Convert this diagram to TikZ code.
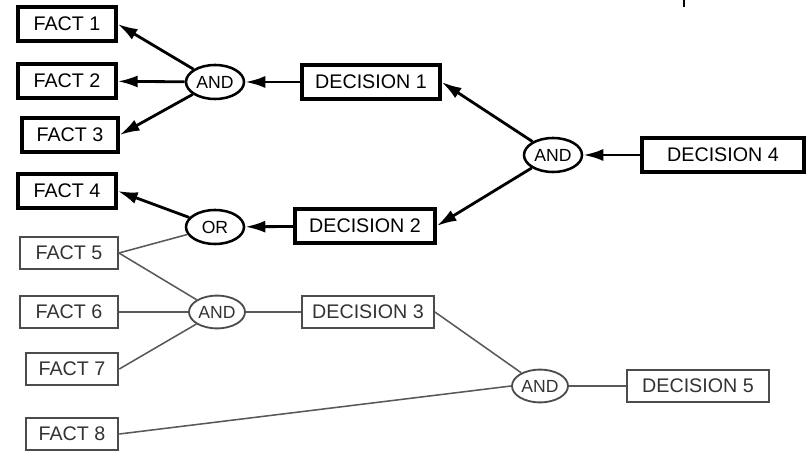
\documentclass[tikz,border=0pt]{standalone}
\usepackage{fontspec}
\setmainfont{Liberation Sans}
\usetikzlibrary{arrows.meta,shapes.geometric}

\begin{document}
\begin{tikzpicture}[x=0.025cm, y=-0.025cm, >={Latex[length=5mm,width=3mm]},
		boxthick/.style={draw=black, line width=2.3pt, fill=white, minimum height=0.85cm, inner sep=1pt, font=\fontsize{14}{16}\selectfont},
		boxthin/.style={draw=black!70, line width=1.3pt, fill=white, text=black!80, minimum height=0.82cm, inner sep=1pt, font=\fontsize{14}{16}\selectfont},
		gatethick/.style={ellipse, draw=black, line width=1.8pt, minimum width=1.45cm, minimum height=0.85cm, inner sep=0pt, font=\fontsize{12.5}{14}\selectfont},
		gatethin/.style={ellipse, draw=black!70, line width=1.3pt, text=black!80, minimum width=1.4cm, minimum height=0.82cm, inner sep=0pt, font=\fontsize{12.5}{14}\selectfont},
		linkthick/.style={->, line width=2pt},
		linkthin/.style={draw=black!65, line width=1.1pt}]
	\useasboundingbox (0,0) rectangle (810,452);
	% Các sự kiện bên trái
	\node[boxthick, minimum width=2.45cm] (f1) at (67,24) {FACT 1};
	\node[boxthick, minimum width=2.45cm] (f2) at (67,81) {FACT 2};
	\node[boxthick, minimum width=2.4cm] (f3) at (70,135) {FACT 3};
	\node[boxthick, minimum width=2.45cm] (f4) at (67,191) {FACT 4};
	\node[boxthin, minimum width=2.45cm] (f5) at (69,253) {FACT 5};
	\node[boxthin, minimum width=2.45cm] (f6) at (69,312) {FACT 6};
	\node[boxthin, minimum width=2.32cm] (f7) at (72,369) {FACT 7};
	\node[boxthin, minimum width=2.32cm] (f8) at (72,434) {FACT 8};
	% Các cổng logic
	\node[gatethick] (and1) at (215,82) {AND};
	\node[gatethick] (or) at (215,227) {OR};
	\node[gatethin] (and2) at (217,312) {AND};
	\node[gatethick] (and3) at (553,155) {AND};
	\node[gatethin] (and4) at (540,386) {AND};
	% Các quyết định
	\node[boxthick, minimum width=3.45cm] (d1) at (371,82) {DECISION 1};
	\node[boxthick, minimum width=3.5cm] (d2) at (365,226) {DECISION 2};
	\node[boxthin, minimum width=3.3cm] (d3) at (368,312) {DECISION 3};
	\node[boxthick, minimum width=4.05cm] (d4) at (723,155) {DECISION 4};
	\node[boxthin, minimum width=3.55cm] (d5) at (698,386) {DECISION 5};
	% Nhánh được chọn (nét đậm, có mũi tên)
	\draw[linkthick] (and1) -- (f1.east);
	\draw[linkthick] (and1) -- (f2);
	\draw[linkthick] (and1) -- (f3.east);
	\draw[linkthick] (d1) -- (and1);
	\draw[linkthick] (or) -- (f4.east);
	\draw[linkthick] (d2) -- (or);
	\draw[linkthick] (and3) -- (d1.east);
	\draw[linkthick] (and3) -- (d2.east);
	\draw[linkthick] (d4) -- (and3);
	% Nhánh còn lại (nét mảnh)
	\draw[linkthin] (f5.east) -- (or);
	\draw[linkthin] (f5.east) -- (and2);
	\draw[linkthin] (f6) -- (and2);
	\draw[linkthin] (f7.east) -- (and2);
	\draw[linkthin] (and2) -- (d3);
	\draw[linkthin] (d3.east) -- (and4);
	\draw[linkthin] (f8.east) -- (and4.west);
	\draw[linkthin] (and4) -- (d5);
	% Vạch nhỏ ở mép trên
	\draw[line width=1.5pt] (684,0) -- (684,7);
\end{tikzpicture}
\end{document}
